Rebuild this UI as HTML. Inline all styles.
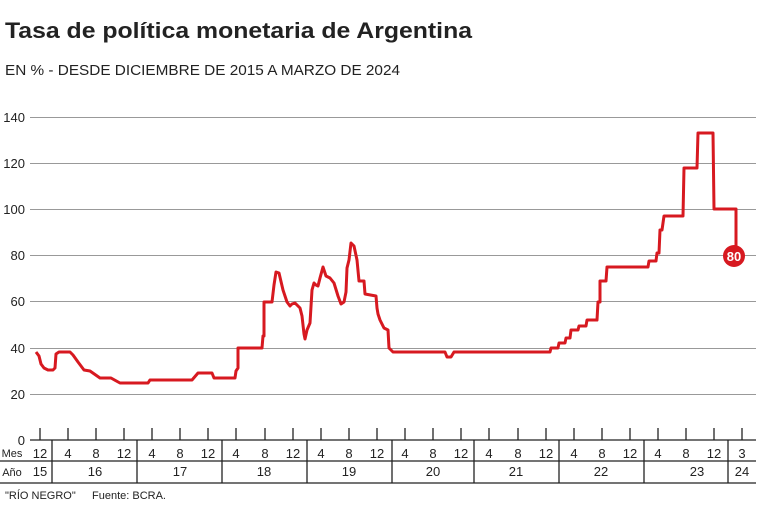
<!DOCTYPE html>
<html><head><meta charset="utf-8"><style>
body{margin:0;background:#fff}
svg{display:block;font-family:"Liberation Sans",sans-serif}
</style></head><body>
<svg width="761" height="506" viewBox="0 0 761 506">
<text x="5" y="38" font-size="22" font-weight="bold" fill="#222" textLength="467" lengthAdjust="spacingAndGlyphs">Tasa de política monetaria de Argentina</text>
<text x="5" y="75" font-size="15" fill="#222" textLength="395" lengthAdjust="spacingAndGlyphs">EN % - DESDE DICIEMBRE DE 2015 A MARZO DE 2024</text>
<g stroke="#999" stroke-width="1">
<line x1="30" x2="756" y1="117.5" y2="117.5"/>
<line x1="30" x2="756" y1="163.5" y2="163.5"/>
<line x1="30" x2="756" y1="209.5" y2="209.5"/>
<line x1="30" x2="756" y1="255.5" y2="255.5"/>
<line x1="30" x2="756" y1="301.5" y2="301.5"/>
<line x1="30" x2="756" y1="348.5" y2="348.5"/>
<line x1="30" x2="756" y1="394.5" y2="394.5"/>
</g>
<g font-size="13" fill="#222" text-anchor="end">
<text x="25" y="122">140</text><text x="25" y="168">120</text><text x="25" y="214">100</text>
<text x="25" y="260">80</text><text x="25" y="306">60</text><text x="25" y="353">40</text>
<text x="25" y="399">20</text><text x="25" y="445">0</text>
</g>
<g stroke="#222" stroke-width="1.3">
<line x1="30" x2="756" y1="440" y2="440"/>
<line x1="0" x2="756" y1="461" y2="461"/>
<line x1="0" x2="756" y1="483" y2="483"/>
<line x1="40" x2="40" y1="428" y2="440"/><line x1="68" x2="68" y1="428" y2="440"/><line x1="96" x2="96" y1="428" y2="440"/><line x1="124" x2="124" y1="428" y2="440"/><line x1="152" x2="152" y1="428" y2="440"/><line x1="180" x2="180" y1="428" y2="440"/><line x1="208" x2="208" y1="428" y2="440"/><line x1="236" x2="236" y1="428" y2="440"/><line x1="265" x2="265" y1="428" y2="440"/><line x1="293" x2="293" y1="428" y2="440"/><line x1="321" x2="321" y1="428" y2="440"/><line x1="349" x2="349" y1="428" y2="440"/><line x1="377" x2="377" y1="428" y2="440"/><line x1="405" x2="405" y1="428" y2="440"/><line x1="433" x2="433" y1="428" y2="440"/><line x1="461" x2="461" y1="428" y2="440"/><line x1="489" x2="489" y1="428" y2="440"/><line x1="518" x2="518" y1="428" y2="440"/><line x1="546" x2="546" y1="428" y2="440"/><line x1="574" x2="574" y1="428" y2="440"/><line x1="602" x2="602" y1="428" y2="440"/><line x1="630" x2="630" y1="428" y2="440"/><line x1="658" x2="658" y1="428" y2="440"/><line x1="686" x2="686" y1="428" y2="440"/><line x1="714" x2="714" y1="428" y2="440"/><line x1="742" x2="742" y1="428" y2="440"/>
<line x1="52" x2="52" y1="440" y2="483"/><line x1="137" x2="137" y1="440" y2="483"/><line x1="222" x2="222" y1="440" y2="483"/><line x1="307" x2="307" y1="440" y2="483"/><line x1="392" x2="392" y1="440" y2="483"/><line x1="474" x2="474" y1="440" y2="483"/><line x1="559" x2="559" y1="440" y2="483"/><line x1="644" x2="644" y1="440" y2="483"/><line x1="728" x2="728" y1="440" y2="483"/>
</g>
<g font-size="13" fill="#222" text-anchor="middle">
<text x="12" y="457" font-size="11">Mes</text><text x="12" y="476" font-size="11">Año</text>
<text x="40" y="458">12</text><text x="68" y="458">4</text><text x="96" y="458">8</text><text x="124" y="458">12</text><text x="152" y="458">4</text><text x="180" y="458">8</text><text x="208" y="458">12</text><text x="236" y="458">4</text><text x="265" y="458">8</text><text x="293" y="458">12</text><text x="321" y="458">4</text><text x="349" y="458">8</text><text x="377" y="458">12</text><text x="405" y="458">4</text><text x="433" y="458">8</text><text x="461" y="458">12</text><text x="489" y="458">4</text><text x="518" y="458">8</text><text x="546" y="458">12</text><text x="574" y="458">4</text><text x="602" y="458">8</text><text x="630" y="458">12</text><text x="658" y="458">4</text><text x="686" y="458">8</text><text x="714" y="458">12</text><text x="742" y="458">3</text>
<text x="40" y="476">15</text><text x="95" y="476">16</text><text x="180" y="476">17</text><text x="264" y="476">18</text><text x="349" y="476">19</text><text x="433" y="476">20</text><text x="516" y="476">21</text><text x="601" y="476">22</text><text x="697" y="476">23</text><text x="742" y="476">24</text>
</g>
<text x="5" y="499" font-size="11" fill="#222">"RÍO NEGRO"</text>
<text x="92" y="499" font-size="11" fill="#222">Fuente: BCRA.</text>
<polyline fill="none" stroke="#d71920" stroke-width="3" stroke-linejoin="round" points="36,352 39,356 41,364 44,368 48,370 53,370 55,368 56,354 59,352 70,352 73,355 78,362 84,370 90,371 100,378 111,378 120,383 148,383 150,380 192,380 198,373 212,373 214,378 235,378 236,371 238,368 238,348 262,348 263,336 264,336 264,302 272,302 274,285 276,272 279,273 283,290 287,302 290,306 292,304 295,303 300,308 302,316 304,334 305,339 307,330 310,323 312,290 314,283 316,285 318,286 320,278 323,267 326,276 330,278 334,283 338,296 341,304 344,302 346,292 347,268 349,260 351,243 354,246 357,260 359,281 364,281 365,294 376,296 377,308 378,314 380,320 384,328 388,330 389,348 393,352 445,352 447,357 451,357 454,352 550,352 551,348 558,348 559,343 565,343 566,338 570,338 571,330 578,330 579,326 586,326 587,320 597,320 598,302 600,302 600,281 606,281 607,267 648,267 649,261 656,261 657,253 659,253 660,230 662,230 664,216 683,216 684,168 697,168 698,133 713,133 714,209 736,209 736,256"/>
<circle cx="734" cy="256" r="11" fill="#d71920"/>
<text x="734" y="261" font-size="13" font-weight="bold" fill="#fff" text-anchor="middle">80</text>
</svg>
</body></html>
